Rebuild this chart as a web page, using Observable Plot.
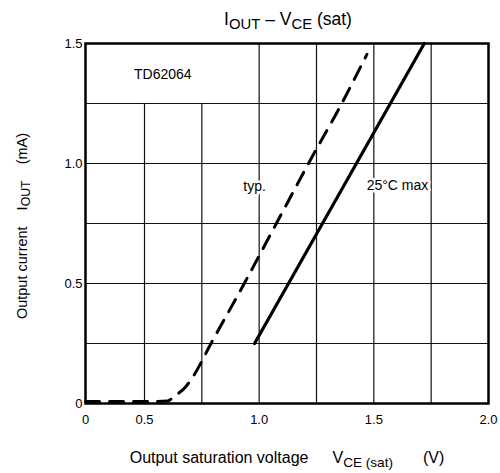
<!DOCTYPE html>
<html>
<head>
<meta charset="utf-8">
<script src="https://cdn.jsdelivr.net/npm/d3@7"></script>
<script src="https://cdn.jsdelivr.net/npm/@observablehq/plot@0.6"></script>
<style>
  html, body { margin: 0; padding: 0; background: #fff; }
  #wrap { position: relative; width: 500px; height: 473px; font-family: "Liberation Sans", Arial, sans-serif; color: #000; font-weight: 400; }
  #wrap svg { position: absolute; left: 0; top: 0; }
  .lbl { position: absolute; white-space: nowrap; line-height: 1; }
  .sub { font-size: 0.85em; position: relative; top: 0.28em; }
  #title { left: 288px; top: 11px; transform: translateX(-50%); font-size: 17.5px; }
  #xlabel { left: 287px; top: 450px; transform: translateX(-50%); font-size: 16px; }
  #ylabel { left: 22px; top: 226px; transform: translate(-50%, -50%) rotate(-90deg); font-size: 14.5px; }
  .gap1 { display: inline-block; width: 24px; }
  .gap2 { display: inline-block; width: 30px; }
  .gapy { display: inline-block; width: 16px; }
</style>
</head>
<body>
<div id="wrap">
  <div id="chart"></div>
  <div class="lbl" id="title">I<span class="sub">OUT</span> – V<span class="sub">CE</span> (sat)</div>
  <div class="lbl" id="xlabel">Output saturation voltage<span class="gap1"></span>V<span class="sub">CE (sat)</span><span class="gap2"></span>(V)</div>
  <div class="lbl" id="ylabel">Output current<span class="gapy"></span>I<span class="sub">OUT</span><span class="gapy"></span>(mA)</div>
</div>
<script>
// Axis ticks
const xTicks = [0, 0.5, 1.0, 1.5, 2.0];
const xTickLabels = ["0", "0.5", "1.0", "1.5", "2.0"];
const yTicks = [0, 0.5, 1.0, 1.5];
const yTickLabels = ["0", "0.5", "1.0", "1.5"];

// Grid lines
const gridXLower = [0.5, 0.75];          // stop below the TD62064 box
const gridXFull = [1.0, 1.25, 1.5, 1.75];
const gridY = [0.25, 0.5, 0.75, 1.0, 1.25];

// typ. curve (dashed)
const typV = [0, 0.3, 0.5, 0.6, 0.63, 0.68, 0.715, 0.79, 0.935, 1.075, 1.215, 1.36, 1.47];
const typI = [0.008, 0.008, 0.008, 0.01, 0.03, 0.07, 0.117, 0.25, 0.5, 0.75, 1.0, 1.25, 1.455];

// 25°C max curve (solid)
const maxV = [0.98, 1.72];
const maxI = [0.25, 1.5];

// Annotations
const annotText = ["TD62064", "typ.", "25°C max"];
const annotV = [0.58, 0.98, 1.603];
const annotI = [1.37, 0.905, 0.91];

const typ = typV.map((v, i) => ({v, i: typI[i]}));
const mx = maxV.map((v, i) => ({v, i: maxI[i]}));
const annot = annotText.map((t, k) => ({t, v: annotV[k], i: annotI[k]}));

const W = 500, H = 473, ML = 85, MR = 12, MT = 43, MB = 70;

const chart = Plot.plot({
  width: W,
  height: H,
  marginLeft: ML,
  marginRight: MR,
  marginTop: MT,
  marginBottom: MB,
  style: { fontFamily: "'Liberation Sans', Arial, sans-serif", fontSize: "13px", background: "white", color: "black" },
  x: { type: "linear", domain: [0, 0.5, 2.0], range: [ML, 144, W - MR] },
  y: { type: "linear", domain: [0, 1.5] },
  marks: [
    Plot.ruleY(gridY, { y: d => d, x1: 0, x2: 2, stroke: "#111", strokeWidth: 1.2 }),
    Plot.ruleX(gridXLower, { x: d => d, y1: 0, y2: 1.25, stroke: "#111", strokeWidth: 1.2 }),
    Plot.ruleX(gridXFull, { x: d => d, y1: 0, y2: 1.5, stroke: "#111", strokeWidth: 1.2 }),
    Plot.line(typ, { x: "v", y: "i", stroke: "black", strokeWidth: 3, strokeDasharray: "14,10", curve: "monotone-x" }),
    Plot.line(mx, { x: "v", y: "i", stroke: "black", strokeWidth: 3.2 }),
    Plot.text(annot, { x: "v", y: "i", text: "t", fontSize: 14, fill: "black", stroke: "white", strokeWidth: 5 }),
    Plot.frame({ stroke: "black", strokeWidth: 2.5 }),
    Plot.axisX(xTicks, { tickSize: 0, tickPadding: 11, fontSize: 13, tickFormat: d => xTickLabels[xTicks.indexOf(d)], label: null }),
    Plot.axisY(yTicks, { tickSize: 0, tickPadding: 3, fontSize: 13, tickFormat: d => yTickLabels[yTicks.indexOf(d)], label: null })
  ]
});
document.getElementById("chart").appendChild(chart);
</script>
</body>
</html>
